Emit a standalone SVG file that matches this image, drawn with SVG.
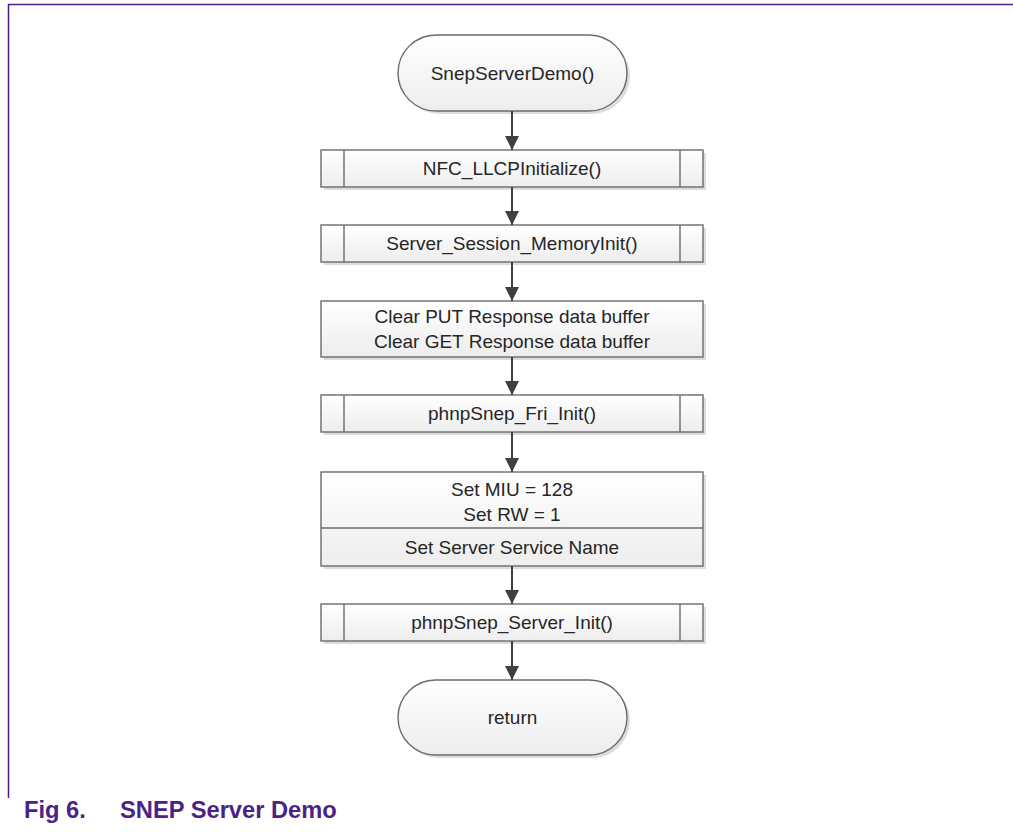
<svg xmlns="http://www.w3.org/2000/svg" width="1013" height="832" viewBox="0 0 1013 832">
  <defs>
    <linearGradient id="fillGrad" x1="0" y1="0" x2="0" y2="1">
      <stop offset="0" stop-color="#ffffff"/>
      <stop offset="1" stop-color="#ededed"/>
    </linearGradient>
    <marker id="arrow" markerWidth="14" markerHeight="14" refX="14" refY="7" orient="auto" markerUnits="userSpaceOnUse">
      <path d="M0,0 L14,7 L0,14 Z" fill="#404040"/>
    </marker>
  </defs>
  <style>
    .shape { fill: url(#fillGrad); stroke: #6b6b6b; stroke-width: 1.4; }
    .shadow { fill: #dcdcdc; stroke: none; }
    .bar { stroke: #6b6b6b; stroke-width: 1.4; }
    .label { font-family: "Liberation Sans", Arial, sans-serif; font-size: 19px; fill: #262626; text-anchor: middle; }
    .conn { stroke: #404040; stroke-width: 2; fill: none; marker-end: url(#arrow); }
    .frame { stroke: #4b1d8a; stroke-width: 1.5; fill: none; }
    .caption { font-family: "Liberation Sans", Arial, sans-serif; font-weight: bold; font-size: 23.7px; fill: #4b2386; }
  </style>

  <rect width="1013" height="832" fill="#ffffff"/>

  <!-- page frame -->
  <path class="frame" d="M1013,4.5 H8.5 V798"/>

  <!-- start terminator -->
  <g id="start">
    <rect class="shadow" x="401" y="38" width="229" height="76" rx="38"/>
    <rect class="shape" x="398" y="35" width="229" height="76" rx="38"/>
    <text class="label" x="512.5" y="80">SnepServerDemo()</text>
  </g>

  <!-- subroutine: NFC_LLCPInitialize -->
  <g id="llcp-init">
    <rect class="shadow" x="324" y="153" width="382" height="37"/>
    <rect class="shape" x="321" y="150" width="382" height="37"/>
    <line class="bar" x1="344" y1="150" x2="344" y2="187"/>
    <line class="bar" x1="680" y1="150" x2="680" y2="187"/>
    <text class="label" x="512" y="175">NFC_LLCPInitialize()</text>
  </g>

  <!-- subroutine: Server_Session_MemoryInit -->
  <g id="session-mem-init">
    <rect class="shadow" x="324" y="228" width="382" height="37"/>
    <rect class="shape" x="321" y="225" width="382" height="37"/>
    <line class="bar" x1="344" y1="225" x2="344" y2="262"/>
    <line class="bar" x1="680" y1="225" x2="680" y2="262"/>
    <text class="label" x="512" y="250">Server_Session_MemoryInit()</text>
  </g>

  <!-- process: clear buffers -->
  <g id="clear-buffers">
    <rect class="shadow" x="324" y="304" width="382" height="56"/>
    <rect class="shape" x="321" y="301" width="382" height="56"/>
    <text class="label" x="512" y="323">Clear PUT Response data buffer</text>
    <text class="label" x="512" y="348">Clear GET Response data buffer</text>
  </g>

  <!-- subroutine: phnpSnep_Fri_Init -->
  <g id="fri-init">
    <rect class="shadow" x="324" y="398" width="382" height="37"/>
    <rect class="shape" x="321" y="395" width="382" height="37"/>
    <line class="bar" x1="344" y1="395" x2="344" y2="432"/>
    <line class="bar" x1="680" y1="395" x2="680" y2="432"/>
    <text class="label" x="512" y="420">phnpSnep_Fri_Init()</text>
  </g>

  <!-- process: server parameters -->
  <g id="server-params">
    <rect class="shadow" x="324" y="475" width="382" height="94"/>
    <rect class="shape" x="321" y="472" width="382" height="94"/>
    <line class="bar" x1="321" y1="528" x2="703" y2="528"/>
    <text class="label" x="512" y="496">Set MIU = 128</text>
    <text class="label" x="512" y="521">Set RW = 1</text>
    <text class="label" x="512" y="554">Set Server Service Name</text>
  </g>

  <!-- subroutine: phnpSnep_Server_Init -->
  <g id="server-init">
    <rect class="shadow" x="324" y="607" width="382" height="37"/>
    <rect class="shape" x="321" y="604" width="382" height="37"/>
    <line class="bar" x1="344" y1="604" x2="344" y2="641"/>
    <line class="bar" x1="680" y1="604" x2="680" y2="641"/>
    <text class="label" x="512" y="629">phnpSnep_Server_Init()</text>
  </g>

  <!-- end terminator -->
  <g id="end">
    <rect class="shadow" x="401" y="683" width="229" height="75" rx="37.5"/>
    <rect class="shape" x="398" y="680" width="229" height="75" rx="37.5"/>
    <text class="label" x="512.5" y="724">return</text>
  </g>

  <!-- connectors -->
  <g id="connectors">
    <line class="conn" x1="512" y1="111" x2="512" y2="150"/>
    <line class="conn" x1="512" y1="187" x2="512" y2="225"/>
    <line class="conn" x1="512" y1="262" x2="512" y2="301"/>
    <line class="conn" x1="512" y1="357" x2="512" y2="395"/>
    <line class="conn" x1="512" y1="432" x2="512" y2="472"/>
    <line class="conn" x1="512" y1="566" x2="512" y2="604"/>
    <line class="conn" x1="512" y1="641" x2="512" y2="680"/>
  </g>

  <!-- caption -->
  <text class="caption" x="24" y="818">Fig 6.</text>
  <text class="caption" x="120" y="818">SNEP Server Demo</text>
</svg>
